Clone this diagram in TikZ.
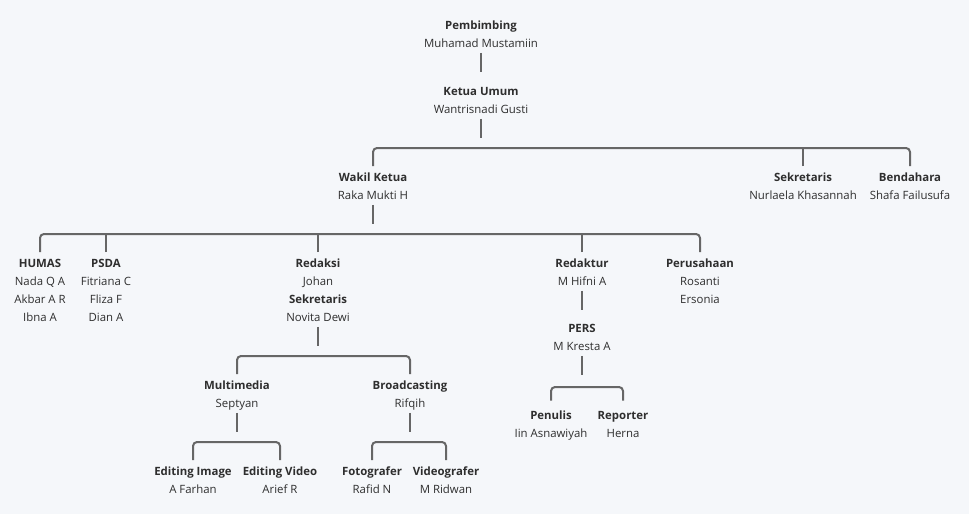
\documentclass[tikz,border=0pt]{standalone}
\usepackage{fontspec}
\setmainfont{Open Sans}
\definecolor{bgc}{HTML}{F5F7FA}
\definecolor{linec}{HTML}{666666}
\definecolor{txtc}{HTML}{2E2E2E}
\newcommand\Ln[1]{\rule[-5pt]{0pt}{18pt}#1}
\newcommand\Tt[1]{\Ln{\textbf{#1}}}
\begin{document}
\begin{tikzpicture}[x=1pt,y=-1pt,
  member/.style={anchor=north,inner sep=0pt,align=center,text=txtc,font=\fontsize{11.4}{18}\selectfont},
  conn/.style={draw=linec,line width=2pt,rounded corners=4pt}]
\fill[bgc] (0,0) rectangle (969,514);
\useasboundingbox (0,0) rectangle (969,514);
% nodes
\node[member] (pemb) at (481,16.5) {\Tt{Pembimbing}\\\Ln{Muhamad Mustamiin}};
\node[member] (ketua) at (481,82.5) {\Tt{Ketua Umum}\\\Ln{Wantrisnadi Gusti}};
\node[member] (wakil) at (373,168.5) {\Tt{Wakil Ketua}\\\Ln{Raka Mukti H}};
\node[member] (sekr) at (803,168.5) {\Tt{Sekretaris}\\\Ln{Nurlaela Khasannah}};
\node[member] (bend) at (910,168.5) {\Tt{Bendahara}\\\Ln{Shafa Failusufa}};
\node[member] (humas) at (40,254.5) {\Tt{HUMAS}\\\Ln{Nada Q A}\\\Ln{Akbar A R}\\\Ln{Ibna A}};
\node[member] (psda) at (106,254.5) {\Tt{PSDA}\\\Ln{Fitriana C}\\\Ln{Fliza F}\\\Ln{Dian A}};
\node[member] (redaksi) at (318,254.5) {\Tt{Redaksi}\\\Ln{Johan}\\\Tt{Sekretaris}\\\Ln{Novita Dewi}};
\node[member] (redaktur) at (582,254.5) {\Tt{Redaktur}\\\Ln{M Hifni A}};
\node[member] (perus) at (700,254.5) {\Tt{Perusahaan}\\\Ln{Rosanti}\\\Ln{Ersonia}};
\node[member] (pers) at (582,319.5) {\Tt{PERS}\\\Ln{M Kresta A}};
\node[member] (multi) at (237,376.5) {\Tt{Multimedia}\\\Ln{Septyan}};
\node[member] (broad) at (410,376.5) {\Tt{Broadcasting}\\\Ln{Rifqih}};
\node[member] (penulis) at (551,406.5) {\Tt{Penulis}\\\Ln{Iin Asnawiyah}};
\node[member] (reporter) at (623,406.5) {\Tt{Reporter}\\\Ln{Herna}};
\node[member] (edimg) at (193,462.5) {\Tt{Editing Image}\\\Ln{A Farhan}};
\node[member] (edvid) at (280,462.5) {\Tt{Editing Video}\\\Ln{Arief R}};
\node[member] (foto) at (372,462.5) {\Tt{Fotografer}\\\Ln{Rafid N}};
\node[member] (video) at (446,462.5) {\Tt{Videografer}\\\Ln{M Ridwan}};
% bar levels
\coordinate (barA) at (0,148);
\coordinate (barB) at (0,234);
\coordinate (barC) at (0,356);
\coordinate (barD) at (0,387);
\coordinate (barE) at (0,442);
% stubs
\draw[conn] (pemb.south) -- ++(0,19);
\draw[conn] (ketua.south) -- ++(0,19);
\draw[conn] (wakil.south) -- ++(0,19);
\draw[conn] (redaksi.south) -- ++(0,19);
\draw[conn] (redaktur.south) -- ++(0,19);
\draw[conn] (pers.south) -- ++(0,19);
\draw[conn] (multi.south) -- ++(0,19);
\draw[conn] (broad.south) -- ++(0,19);
% bars
\draw[conn] ([yshift=2.5pt]wakil.north) -- (wakil.north |- barA) -- (bend.north |- barA) -- ([yshift=2.5pt]bend.north);
\draw[conn] ([yshift=2.5pt]sekr.north) -- (sekr.north |- barA);
\draw[conn] ([yshift=2.5pt]humas.north) -- (humas.north |- barB) -- (perus.north |- barB) -- ([yshift=2.5pt]perus.north);
\draw[conn] ([yshift=2.5pt]psda.north) -- (psda.north |- barB);
\draw[conn] ([yshift=2.5pt]redaksi.north) -- (redaksi.north |- barB);
\draw[conn] ([yshift=2.5pt]redaktur.north) -- (redaktur.north |- barB);
\draw[conn] ([yshift=2.5pt]multi.north) -- (multi.north |- barC) -- (broad.north |- barC) -- ([yshift=2.5pt]broad.north);
\draw[conn] ([yshift=6pt]penulis.north) -- (penulis.north |- barD) -- (reporter.north |- barD) -- ([yshift=6pt]reporter.north);
\draw[conn] ([yshift=2.5pt]edimg.north) -- (edimg.north |- barE) -- (edvid.north |- barE) -- ([yshift=2.5pt]edvid.north);
\draw[conn] ([yshift=2.5pt]foto.north) -- (foto.north |- barE) -- (video.north |- barE) -- ([yshift=2.5pt]video.north);
\end{tikzpicture}
\end{document}
